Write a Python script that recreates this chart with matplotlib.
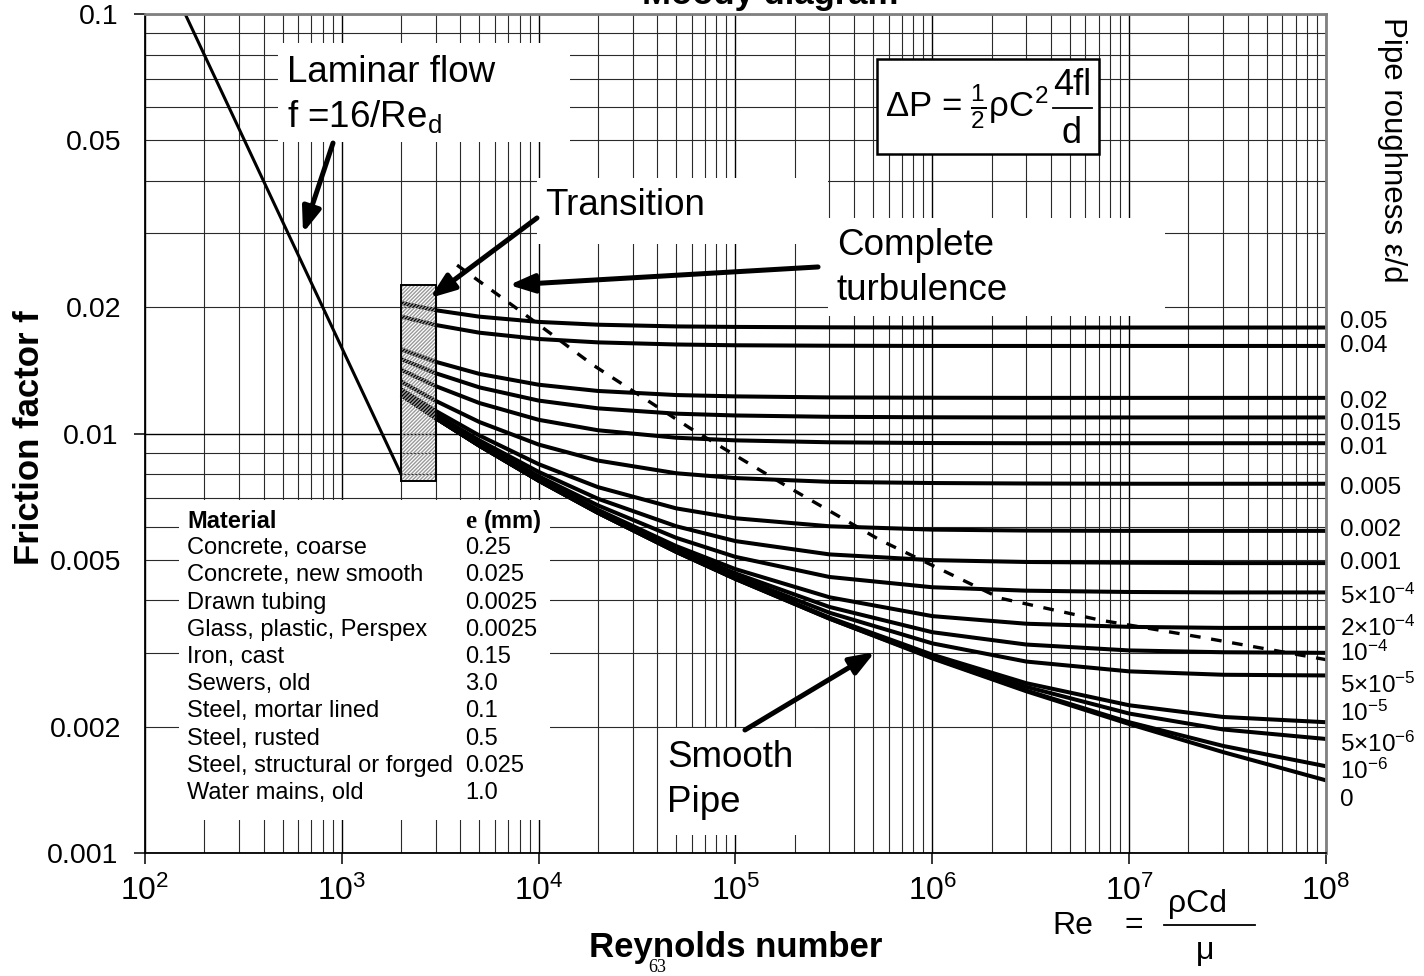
import numpy as np
import matplotlib.pyplot as plt
from matplotlib.patches import Rectangle
from matplotlib.lines import Line2D
from matplotlib.ticker import FixedLocator, FuncFormatter, LogFormatterSciNotation

plt.rcParams['font.family'] = ['Liberation Sans', 'DejaVu Sans']
plt.rcParams['mathtext.fontset'] = 'custom'
plt.rcParams['mathtext.rm'] = 'Liberation Sans'
plt.rcParams['mathtext.it'] = 'Liberation Sans'
plt.rcParams['mathtext.bf'] = 'Liberation Sans:bold'
plt.rcParams['mathtext.default'] = 'regular'
plt.rcParams['hatch.linewidth'] = 1.0

# Reynolds numbers where the friction factors were read
re_pts = [2e3, 3e3, 5e3, 1e4, 2e4, 5e4, 1e5, 3e5, 1e6, 3e6, 1e7, 3e7, 1e8]

# Fanning friction factor for each relative roughness
f_050 = [.02048, .01967, .01899, .01845, .01817, .01800, .01795, .01791, .01789, .01789, .01789, .01789, .01789]
f_040 = [.01900, .01814, .01739, .01680, .01649, .01630, .01623, .01619, .01617, .01617, .01617, .01617, .01617]
f_020 = [.01588, .01482, .01387, .01307, .01263, .01235, .01226, .01219, .01217, .01216, .01216, .01216, .01216]
f_015 = [.01505, .01392, .01288, .01198, .01148, .01115, .01104, .01096, .01093, .01092, .01092, .01092, .01092]
f_010 = [.01419, .01297, .01182, .01078, .01018, .00977, .00963, .00953, .00949, .00948, .00948, .00948, .00948]
f_005 = [.01330, .01196, .01065, .00941, .00862, .00804, .00783, .00767, .00762, .00760, .00759, .00759, .00759]
f_002 = [.01274, .01132, .00989, .00845, .00745, .00663, .00628, .00601, .00590, .00587, .00586, .00586, .00586]
f_001 = [.01256, .01110, .00963, .00810, .00699, .00601, .00554, .00515, .00499, .00494, .00492, .00491, .00491]
f_5e4 = [.01246, .01099, .00949, .00791, .00674, .00564, .00508, .00455, .00430, .00422, .00419, .00418, .00418]
f_2e4 = [.01239, .01092, .00941, .00780, .00658, .00539, .00475, .00407, .00367, .00352, .00346, .00344, .00344]
f_1e4 = [.01238, .01090, .00937, .00776, .00653, .00532, .00464, .00386, .00336, .00314, .00304, .00301, .00300]
f_5e5 = [.01237, .01089, .00936, .00774, .00650, .00527, .00457, .00374, .00316, .00286, .00271, .00266, .00265]
f_1e5 = [.01237, .01089, .00936, .00773, .00648, .00523, .00451, .00364, .00297, .00254, .00225, .00211, .00205]
f_5e6 = [.01236, .01088, .00935, .00772, .00647, .00523, .00451, .00363, .00294, .00249, .00215, .00197, .00187]
f_1e6 = [.01236, .01088, .00935, .00772, .00647, .00522, .00450, .00362, .00292, .00244, .00205, .00180, .00161]
f_smooth = [.01236, .01088, .00935, .00772, .00647, .00522, .00450, .00362, .00291, .00243, .00203, .00174, .00149]

curves = [f_050, f_040, f_020, f_015, f_010, f_005, f_002, f_001,
          f_5e4, f_2e4, f_1e4, f_5e5, f_1e5, f_5e6, f_1e6, f_smooth]

rough_labels = ['0.05', '0.04', '0.02', '0.015', '0.01', '0.005', '0.002', '0.001',
                '5×10$^{-4}$', '2×10$^{-4}$', '10$^{-4}$', '5×10$^{-5}$',
                '10$^{-5}$', '5×10$^{-6}$', '10$^{-6}$', '0']
label_y = [0.633, 0.604, 0.538, 0.511, 0.483, 0.435, 0.385, 0.346,
           0.306, 0.268, 0.238, 0.200, 0.166, 0.129, 0.097, 0.063]

# laminar line f = 16/Re
lam_re = [100, 2000]
lam_f = [0.16, 0.008]

# boundary of complete turbulence
ct_re = [3850, 8340, 18900, 58700, 189000, 543000, 2.21e6, 7.13e6, 2.30e7, 1e8]
ct_f = [0.0252, 0.01936, 0.01456, 0.0103, 0.00741, 0.00557, 0.00405, 0.00359, 0.00327, 0.00289]

# transition zone
trans_re = [2000, 3000]
trans_f = [0.0077, 0.0226]

materials = ['Concrete, coarse', 'Concrete, new smooth', 'Drawn tubing',
             'Glass, plastic, Perspex', 'Iron, cast', 'Sewers, old',
             'Steel, mortar lined', 'Steel, rusted', 'Steel, structural or forged',
             'Water mains, old']
roughness_mm = ['0.25', '0.025', '0.0025', '0.0025', '0.15', '3.0', '0.1', '0.5', '0.025', '1.0']

fig = plt.figure(figsize=(14.24, 9.76), dpi=100)
ax = fig.add_axes([145 / 1424, 1 - 853 / 976, 1181 / 1424, 839 / 976])
ax.set_xscale('log')
ax.set_yscale('log')
ax.set_xlim(1e2, 1e8)
ax.set_ylim(1e-3, 1e-1)
ax.set_axisbelow(True)

# ticks and grid
ax.xaxis.set_major_locator(FixedLocator([10.0 ** k for k in range(2, 9)]))
ax.xaxis.set_minor_locator(FixedLocator([d * 10.0 ** k for k in range(2, 8) for d in range(2, 10)]))
ax.xaxis.set_major_formatter(LogFormatterSciNotation())
ax.yaxis.set_major_locator(FixedLocator([1e-3, 1e-2, 1e-1]))
ax.yaxis.set_minor_locator(FixedLocator([d * 10.0 ** k for k in (-3, -2) for d in range(2, 10)]))
ax.yaxis.set_major_formatter(FuncFormatter(lambda v, p: f'{v:g}'))


def minor_label(v, p):
    lead = int(round(v / 10 ** np.floor(np.log10(v) + 1e-9)))
    return f'{v:g}' if lead in (2, 5) else ''


ax.yaxis.set_minor_formatter(FuncFormatter(minor_label))
ax.xaxis.set_minor_formatter(FuncFormatter(lambda v, p: ''))
ax.tick_params(which='major', direction='out', length=8, width=1.1, color='black')
ax.tick_params(which='minor', length=0)
ax.tick_params(axis='x', which='major', labelsize=23, pad=8)
ax.tick_params(axis='y', which='major', labelsize=20.5, pad=11)
ax.tick_params(axis='y', which='minor', labelsize=20.5, pad=11 + 8 * 72 / 100)
ax.grid(which='major', color='black', lw=1.0)
ax.grid(which='minor', color='#2a2a2a', lw=0.8)

for s in ('left', 'bottom'):
    ax.spines[s].set_color('black')
    ax.spines[s].set_linewidth(1.3)
for s in ('top', 'right'):
    ax.spines[s].set_color('#808080')
    ax.spines[s].set_linewidth(2)


def white_box(x0, y0, x1, y1, edge=False):
    ax.add_patch(Rectangle((x0, y0), x1 - x0, y1 - y0, transform=ax.transAxes,
                           facecolor='white', edgecolor='black' if edge else 'none',
                           lw=1.8 if edge else 0, zorder=1.5))


white_box(0.1126, 0.8474, 0.3599, 0.9654)   # laminar note
white_box(0.3319, 0.7253, 0.5783, 0.8045)   # transition note
white_box(0.5783, 0.6400, 0.8637, 0.7568)   # complete turbulence note
white_box(0.6198, 0.8331, 0.8079, 0.9464, edge=True)  # pressure drop formula
white_box(0.0288, 0.0393, 0.3429, 0.4207)   # material table
white_box(0.4361, 0.0215, 0.5673, 0.1490)   # smooth pipe note

# curves
ax.plot(lam_re, lam_f, color='black', lw=2.2, zorder=2)
for f in curves:
    ax.plot(re_pts, f, color='black', lw=2.9, solid_capstyle='butt', zorder=2)
ax.plot(ct_re, ct_f, color='black', lw=2.4, dashes=(3.2, 3.2), zorder=2)

# hatched transition region
ax.add_patch(Rectangle((trans_re[0], trans_f[0]), trans_re[1] - trans_re[0], trans_f[1] - trans_f[0],
                       facecolor='none', edgecolor='#9a9a9a', hatch='/' * 9, lw=0, zorder=2.5))
ax.add_patch(Rectangle((trans_re[0], trans_f[0]), trans_re[1] - trans_re[0], trans_f[1] - trans_f[0],
                       fill=False, edgecolor='black', lw=1.4, zorder=2.6))


def arrow(tail, head):
    ax.annotate('', xy=head, xytext=tail, xycoords='axes fraction', textcoords='axes fraction',
                arrowprops=dict(arrowstyle='-|>,head_length=0.75,head_width=0.28', lw=3.6,
                                color='black', shrinkA=0, shrinkB=0, mutation_scale=20),
                zorder=3)


arrow((0.1592, 0.8462), (0.1338, 0.7390))
arrow((0.3319, 0.7569), (0.2413, 0.6615))
arrow((0.5699, 0.6985), (0.3082, 0.6770))
arrow((0.5080, 0.1466), (0.6181, 0.2396))

# annotations
big = 26.5
ax.text(0.1202, 0.9190, 'Laminar flow', transform=ax.transAxes, fontsize=big, zorder=4)
ax.text(0.1202, 0.8653, 'f =16/Re$_d$', transform=ax.transAxes, fontsize=big, zorder=4)
ax.text(0.3387, 0.7604, 'Transition', transform=ax.transAxes, fontsize=big, zorder=4)
ax.text(0.5859, 0.7128, 'Complete', transform=ax.transAxes, fontsize=big, zorder=4)
ax.text(0.5859, 0.6591, 'turbulence', transform=ax.transAxes, fontsize=big, zorder=4)
ax.text(0.4420, 0.1025, 'Smooth', transform=ax.transAxes, fontsize=big, zorder=4)
ax.text(0.4420, 0.0489, 'Pipe', transform=ax.transAxes, fontsize=big, zorder=4)

# pressure drop formula
ax.text(0.6266, 0.8772, 'ΔP = $\\frac{1}{2}$ρC$^2$', transform=ax.transAxes, fontsize=25, zorder=4)
ax.text(0.7849, 0.9035, '4fl', transform=ax.transAxes, fontsize=26, ha='center', zorder=4)
ax.add_line(Line2D([0.7688, 0.8019], [0.8880, 0.8880], transform=ax.transAxes, color='black', lw=1.3, zorder=4))
ax.text(0.7849, 0.8462, 'd', transform=ax.transAxes, fontsize=26, ha='center', zorder=4)

# material table
row0 = 0.3957
step = 0.03242
tsize = 17
ax.text(0.0356, row0, 'Material', transform=ax.transAxes, fontsize=tsize, fontweight='bold', va='center', zorder=4)
ax.text(0.2710, row0, 'e', transform=ax.transAxes, fontsize=tsize + 1, family='Liberation Serif',
        fontweight='bold', va='center', zorder=4)
ax.text(0.2870, row0, '(mm)', transform=ax.transAxes, fontsize=tsize, fontweight='bold', va='center', zorder=4)
for i, (m, e) in enumerate(zip(materials, roughness_mm)):
    y = row0 - (i + 1) * step
    ax.text(0.0356, y, m, transform=ax.transAxes, fontsize=tsize, va='center', zorder=4)
    ax.text(0.2710, y, e, transform=ax.transAxes, fontsize=tsize, va='center', zorder=4)

# roughness labels on the right
for lab, y in zip(rough_labels, label_y):
    ax.text(1.0118, y, lab, transform=ax.transAxes, fontsize=17.5, va='center', clip_on=False)
ax.text(1.0559, 0.997, 'Pipe roughness ε/d', transform=ax.transAxes, fontsize=22.5,
        rotation=-90, ha='center', va='top', clip_on=False)

# axis titles
fig.text(30 / 1424, 1 - 438 / 976, 'Friction factor f', fontsize=25, fontweight='bold',
         rotation=90, ha='center', va='center')
fig.text(736 / 1424, 1 - 957 / 976, 'Reynolds number', fontsize=25, fontweight='bold',
         ha='center', va='baseline')
fig.text(1052 / 1424, 1 - 934 / 976, 'Re', fontsize=23, va='baseline')
fig.text(1134 / 1424, 1 - 925 / 976, '=', fontsize=23, ha='center', va='center')
fig.text(1197 / 1424, 1 - 912 / 976, 'ρCd', fontsize=23, ha='center', va='baseline')
fig.add_artist(Line2D([1164 / 1424, 1255 / 1424], [1 - 925 / 976, 1 - 925 / 976],
                      transform=fig.transFigure, color='black', lw=1.3))
fig.text(1205 / 1424, 1 - 959 / 976, 'μ', fontsize=23, ha='center', va='baseline')
fig.text(657 / 1424, 1 - 968 / 976, '63', fontsize=13, family='Liberation Serif', ha='center', va='center')
fig.text(770 / 1424, 1 - 4 / 976, 'Moody diagram', fontsize=25, fontweight='bold', ha='center', va='baseline')

fig.savefig('out.png', dpi=100)
